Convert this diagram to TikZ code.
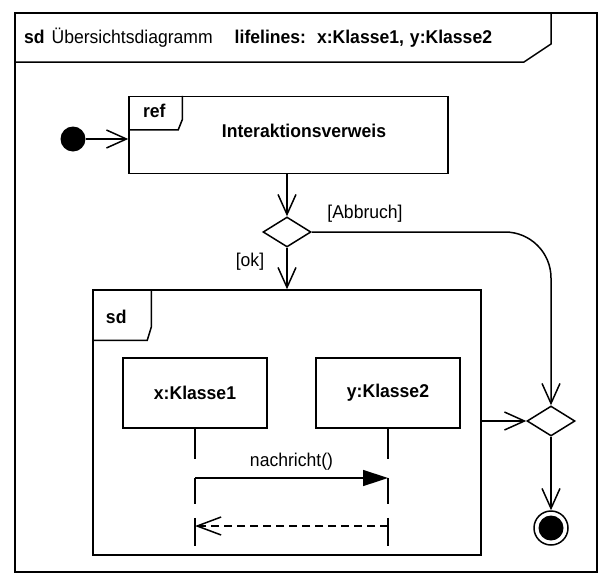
\documentclass[tikz,border=0pt]{standalone}
\usepackage{fontspec}
\setmainfont[FakeStretch=0.95]{Liberation Sans}
\usetikzlibrary{arrows.meta,shapes.geometric,calc}

\begin{document}
\begin{tikzpicture}[x=1pt,y=-1pt, line width=1.5pt,
  every node/.style={font=\fontsize{18.5}{21}\selectfont},
  box/.style={draw, rectangle, inner sep=0pt},
  dec/.style={draw, diamond, inner sep=0pt, minimum width=48pt, minimum height=30pt},
  flow/.style={-{Straight Barb[length=20pt,width=18pt]}},
  sync/.style={-{Triangle[length=25pt,width=16pt]}},
  reply/.style={dash pattern=on 8pt off 5pt, -{Straight Barb[length=24pt,width=18pt]}},
  lifeline/.style={dash pattern=on 30pt off 19pt on 26pt off 14pt on 28pt off 60pt}
]
\useasboundingbox (0,0) rectangle (605,584);

% outer frame
\draw (15,13) rectangle (597,572);
\draw (15,62) -- (524,62) -- (551,44) -- (551,13);
\node[anchor=west] (title) at (20,38) {\textbf{sd}\hspace{7pt}Übersichtsdiagramm\hspace{22pt}\textbf{lifelines:\hspace{11pt}x:Klasse1,\hspace{6pt}y:Klasse2}};

% initial node and ref frame
\node[circle, fill, inner sep=0pt, minimum size=25pt] (start) at (73,139) {};
\node[box, minimum width=319pt, minimum height=77pt] (ref) at (288.5,135) {};
\node (reflabel) at (304,131) {\textbf{Interaktionsverweis}};
\draw ($(ref.north west)+(0,34)$) -- ($(ref.north west)+(50,34)$) -- ($(ref.north west)+(54,24)$) -- ($(ref.north west)+(54,0)$);
\node (reftag) at ($(ref.north west)+(26,15)$) {\textbf{ref}};
\draw[flow] (start) -- (ref.west |- start);

% decision
\node[dec] (d1) at (287,232) {};
\draw[flow] (ref.south -| d1) -- (d1.north);
\node (abbruch) at (365,214) {[Abbruch]};
\node (ok) at (250,262) {[ok]};

% sd frame
\node[box, minimum width=388pt, minimum height=265pt] (sd) at (287,422.5) {};
\draw ($(sd.north west)+(0,51)$) -- ($(sd.north west)+(55,51)$) -- ($(sd.north west)+(59,38)$) -- ($(sd.north west)+(59,0)$);
\node (sdtag) at ($(sd.north west)+(24,28)$) {\textbf{sd}};
\draw[flow] (d1.south) -- (d1 |- sd.north);

% lifelines
\node[box, minimum width=144pt, minimum height=70pt] (x) at (195,393) {\textbf{x:Klasse1}};
\node[box, minimum width=144pt, minimum height=70pt] (y) at (388,393) {\textbf{y:Klasse2}};
\draw[lifeline] (x.south) -- ++(0,117);
\draw[lifeline] (y.south) -- ++(0,117);

\coordinate (r1) at (0,478);
\coordinate (r2) at (0,526);
\draw[sync] (x.south |- r1) -- (y.south |- r1) node[midway, above=4pt] (msg) {nachricht()};
\draw[reply] (y.south |- r2) -- (x.south |- r2);

% merge and final
\node[dec] (d2) at (551,421) {};
\draw[flow, rounded corners=46pt] (d1.east) -| (d2.north);
\draw[flow] (sd.east |- d2) -- (d2.west);
\node[circle, draw, inner sep=0pt, minimum size=34pt] (final) at (551,528) {};
\node[circle, fill, inner sep=0pt, minimum size=25pt] (finalin) at (final) {};
\draw[flow] (d2.south) -- (final.north);
\end{tikzpicture}
\end{document}
